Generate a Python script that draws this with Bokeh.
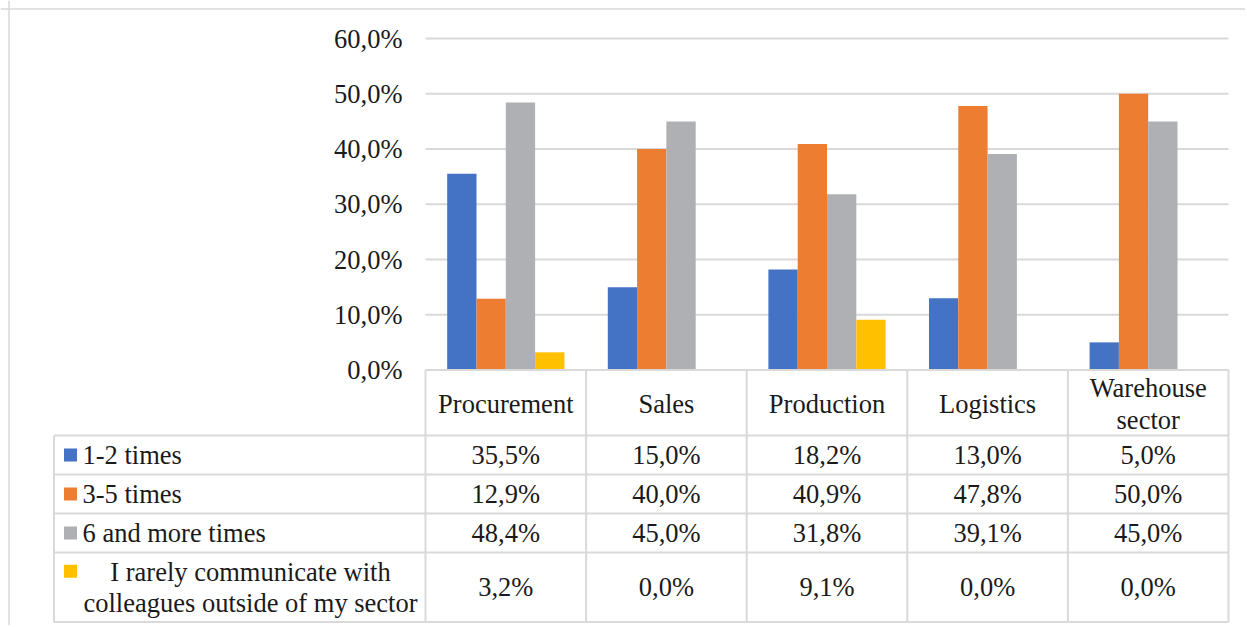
from bokeh.plotting import figure
from bokeh.models import Range1d, Span
from bokeh.core.properties import value
from bokeh.embed import file_html
from bokeh.resources import INLINE

# ---------------- data ----------------
categories = ["Procurement", "Sales", "Production", "Logistics", "Warehouse\nsector"]
series_names = ["1-2 times", "3-5 times", "6 and more times",
                "I rarely communicate with\ncolleagues outside of my sector"]
s_1_2 = [35.5, 15.0, 18.2, 13.0, 5.0]
s_3_5 = [12.9, 40.0, 40.9, 47.8, 50.0]
s_6_more = [48.4, 45.0, 31.8, 39.1, 45.0]
s_rarely = [3.2, 0.0, 9.1, 0.0, 0.0]
y_ticks = [0, 10, 20, 30, 40, 50, 60]
y_tick_labels = ["0,0%", "10,0%", "20,0%", "30,0%", "40,0%", "50,0%", "60,0%"]

series = [s_1_2, s_3_5, s_6_more, s_rarely]
colors = ["#4472C4", "#ED7D31", "#AFB0B3", "#FFC000"]

# ---------------- layout (pixels) ----------------
W, H = 1245, 625
plot_left = 425.0          # px from figure left where category area starts
col_px = 160.6             # width of one category column
zero_px = 369.5            # y px of 0% line from figure top
pct_px = 5.525             # px per percent
bar_px = 29.3
frame_px = 8.5             # outer chart border (top / left)
label_left_px = 53.5       # table label column left edge
swatch_px = 70.0
label_text_px = 82.0
label_center_px = 250.0
row_edges = [369.5, 435.0, 474.0, 513.0, 552.0, 621.5]  # table row boundaries (px from top)

FONT = value("Liberation Serif")
FS = "26.5px"
TXT = "#1a1a1a"
LINE = "#D9D9D9"

def ux(px):
    return (px - plot_left) / col_px

n = len(categories)
p = figure(width=W, height=H, output_backend="svg", toolbar_location=None,
           x_range=Range1d(ux(0), ux(W)),
           y_range=Range1d(-(H - zero_px) / pct_px, zero_px / pct_px),
           x_axis_type=None, y_axis_type=None, min_border=0,
           outline_line_color=None, background_fill_color="white",
           border_fill_color="white")
p.extra_y_ranges = {"tbl": Range1d(start=H, end=0)}

# outer chart border (top & left visible as in the reference)
p.add_layout(Span(location=frame_px, dimension="width", y_range_name="tbl",
                  line_color=LINE, line_width=1.5))
p.add_layout(Span(location=ux(frame_px), dimension="height",
                  line_color=LINE, line_width=1.5))

# gridlines
p.segment(x0=0, x1=n, y0=y_ticks, y1=y_ticks, line_color=LINE, line_width=1.8)

# y tick labels
p.text(x=[0] * len(y_ticks), y=y_ticks, text=y_tick_labels, x_offset=-23,
       text_align="right", text_baseline="middle", text_font=FONT,
       text_font_size=FS, text_color=TXT)

# bars
bw = bar_px / col_px
ns = len(series)
for j, (vals, col) in enumerate(zip(series, colors)):
    xs = [i + 0.5 + (j - (ns - 1) / 2) * bw for i in range(n)]
    p.vbar(x=xs, top=vals, bottom=0, width=bw, fill_color=col, line_color=None)

# table lines
xl = ux(label_left_px)
p.segment(x0=0, x1=n, y0=row_edges[0], y1=row_edges[0], y_range_name="tbl",
          line_color=LINE, line_width=2)
p.segment(x0=[xl] * (len(row_edges) - 1), x1=[n] * (len(row_edges) - 1),
          y0=row_edges[1:], y1=row_edges[1:], y_range_name="tbl",
          line_color=LINE, line_width=2)
p.segment(x0=list(range(n + 1)), x1=list(range(n + 1)),
          y0=[row_edges[0]] * (n + 1), y1=[row_edges[-1]] * (n + 1),
          y_range_name="tbl", line_color=LINE, line_width=2)
p.segment(x0=[xl], x1=[xl], y0=[row_edges[1]], y1=[row_edges[-1]],
          y_range_name="tbl", line_color=LINE, line_width=2)

# header (category names)
hy = (row_edges[0] + row_edges[1]) / 2 + 1
p.text(x=[i + 0.5 for i in range(n)], y=[hy] * n, text=categories, y_range_name="tbl",
       text_align="center", text_baseline="middle", text_font=FONT,
       text_font_size=FS, text_color=TXT, text_line_height=1.06)

# rows
def fmt(v):
    return f"{v:.1f}%".replace(".", ",")

for j, (vals, col, name) in enumerate(zip(series, colors, series_names)):
    cy = (row_edges[j + 1] + row_edges[j + 2]) / 2
    p.text(x=[i + 0.5 for i in range(n)], y=[cy] * n, text=[fmt(v) for v in vals],
           y_range_name="tbl", text_align="center", text_baseline="middle",
           text_font=FONT, text_font_size=FS, text_color=TXT)
    if "\n" in name:
        sy = cy - 16
        p.text(x=[ux(label_center_px)], y=[cy], text=[name], y_range_name="tbl",
               text_align="center", text_baseline="middle", text_font=FONT,
               text_font_size=FS, text_color=TXT, text_line_height=1.03)
    else:
        sy = cy
        p.text(x=[ux(label_text_px)], y=[cy], text=[name], y_range_name="tbl",
               text_align="left", text_baseline="middle", text_font=FONT,
               text_font_size=FS, text_color=TXT)
    p.scatter(x=[ux(swatch_px)], y=[sy], y_range_name="tbl", marker="square",
              size=13, fill_color=col, line_color=None)

open("out.html", "w").write(file_html(p, INLINE))
